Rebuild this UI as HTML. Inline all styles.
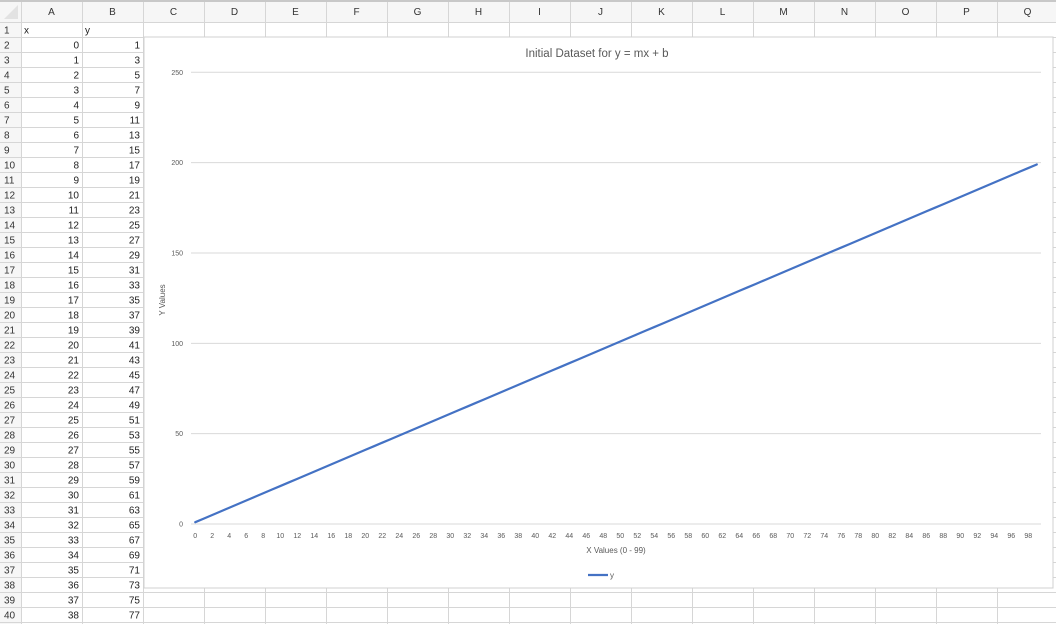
<!DOCTYPE html>
<html><head><meta charset="utf-8">
<style>
html,body{margin:0;padding:0;background:#fff;width:1056px;height:624px;overflow:hidden;font-family:"Liberation Sans",sans-serif;}
svg{display:block}
</style></head>
<body>
<svg id="root" width="1056" height="624" xmlns="http://www.w3.org/2000/svg">
  <g id="grid"></g>
  <g id="chart"></g>
</svg>
<script>
// ---- chart data ----
const xCategories = [0,1,2,3,4,5,6,7,8,9,10,11,12,13,14,15,16,17,18,19,20,21,22,23,24,25,26,27,28,29,30,31,32,33,34,35,36,37,38,39,40,41,42,43,44,45,46,47,48,49,50,51,52,53,54,55,56,57,58,59,60,61,62,63,64,65,66,67,68,69,70,71,72,73,74,75,76,77,78,79,80,81,82,83,84,85,86,87,88,89,90,91,92,93,94,95,96,97,98,99];
const yValues = [1,3,5,7,9,11,13,15,17,19,21,23,25,27,29,31,33,35,37,39,41,43,45,47,49,51,53,55,57,59,61,63,65,67,69,71,73,75,77,79,81,83,85,87,89,91,93,95,97,99,101,103,105,107,109,111,113,115,117,119,121,123,125,127,129,131,133,135,137,139,141,143,145,147,149,151,153,155,157,159,161,163,165,167,169,171,173,175,177,179,181,183,185,187,189,191,193,195,197,199];
const yTicks = [0,50,100,150,200,250];
const chartTitle = "Initial Dataset for y = mx + b";

const NS = "http://www.w3.org/2000/svg";
function mk(tag, attrs, parent, text){
  const e = document.createElementNS(NS, tag);
  for (const k in attrs) e.setAttribute(k, attrs[k]);
  if (text !== undefined) e.textContent = text;
  parent.appendChild(e);
  return e;
}
const grid = document.getElementById('grid');
const chart = document.getElementById('chart');

// ---- spreadsheet grid ----
const colLetters = ["A","B","C","D","E","F","G","H","I","J","K","L","M","N","O","P","Q"];
const rowHdrW = 21, colW = 61, hdrH = 22, rowH = 15;
mk('rect',{x:0,y:0,width:1056,height:hdrH,fill:'#f6f6f6'},grid);
mk('rect',{x:0,y:0,width:rowHdrW,height:624,fill:'#f6f6f6'},grid);
for (let c = 0; c <= colLetters.length; c++) {
  const x = rowHdrW + c*colW;
  mk('line',{x1:x+0.5,y1:0,x2:x+0.5,y2:624,stroke:'#d6d6d6','stroke-width':1},grid);
}
for (let r = 0; r <= 41; r++) {
  const y = hdrH + r*rowH;
  mk('line',{x1:0,y1:y+0.5,x2:1056,y2:y+0.5,stroke:'#d6d6d6','stroke-width':1},grid);
}
mk('line',{x1:0,y1:1,x2:1056,y2:1,stroke:'#c8c8c8','stroke-width':2},grid);
mk('polygon',{points:'4,19 18,19 18,5',fill:'#e2e2e2'},grid);
colLetters.forEach((L,i)=>{
  const t = mk('text',{x:rowHdrW + i*colW + colW/2, y:15, 'font-size':10, fill:'#333','text-anchor':'middle'},grid,L);
  
  
});
for (let r = 1; r <= 40; r++) {
  const t = mk('text',{x:4, y:hdrH + (r-1)*rowH + 11.5, 'font-size':10, fill:'#333'},grid,String(r));
  
  
}
// header cells
const hx = mk('text',{x:rowHdrW+3, y:hdrH+11.5,'font-size':10,fill:'#222'},grid,'x');


const hy = mk('text',{x:rowHdrW+colW+3, y:hdrH+11.5,'font-size':10,fill:'#222'},grid,'y');


for (let r = 2; r <= 40; r++) {
  const i = r-2;
  const y = hdrH + (r-1)*rowH + 11.5;
  const a = mk('text',{x:rowHdrW+colW-3, y:y,'font-size':10,fill:'#222','text-anchor':'end'},grid,String(xCategories[i]));
  
  
  const b = mk('text',{x:rowHdrW+2*colW-3, y:y,'font-size':10,fill:'#222','text-anchor':'end'},grid,String(yValues[i]));
  
  
}

// ---- chart ----
const box = {x:144, y:37, w:909, h:551};
const bg = mk('rect',{x:box.x, y:box.y, width:box.w, height:box.h, fill:'#fff', stroke:'#d0d0d0','stroke-width':1},chart);


const plot = {l:191, r:1041, top:72.3, bottom:524};
const yMax = 250;
function yPos(v){ return plot.bottom - (v/yMax)*(plot.bottom-plot.top); }
const band = (plot.r - plot.l)/xCategories.length;
function xPos(i){ return plot.l + band*(i+0.5); }

const title = mk('text',{x:597, y:57,'font-size':11.5, fill:'#595959','text-anchor':'middle'},chart,chartTitle);



yTicks.forEach(v=>{
  const y = yPos(v);
  const gl = mk('line',{x1:plot.l, y1:y, x2:plot.r, y2:y, stroke:'#d9d9d9','stroke-width':1},chart);
  
  
  const t = mk('text',{x:183, y:y+2.5,'font-size':7, fill:'#595959','text-anchor':'end'},chart,String(v));
  
  
});
xCategories.forEach((c,i)=>{
  if (i % 2 !== 0) return;
  const t = mk('text',{x:xPos(i), y:538,'font-size':7, fill:'#595959','text-anchor':'middle'},chart,String(c));
  
  
});
const yt = mk('text',{x:0,y:0,'font-size':8, fill:'#595959','text-anchor':'middle', transform:'translate(165,300) rotate(-90)'},chart,'Y Values');


const xt = mk('text',{x:616, y:553,'font-size':8, fill:'#595959','text-anchor':'middle'},chart,'X Values (0 - 99)');



const pts = yValues.map((v,i)=> xPos(i).toFixed(2) + ',' + yPos(v).toFixed(2)).join(' ');
const line = mk('polyline',{points:pts, fill:'none', stroke:'#4472c4','stroke-width':2.2,'stroke-linejoin':'round','stroke-linecap':'round'},chart);



const lg = mk('line',{x1:588, y1:575, x2:608, y2:575, stroke:'#4472c4','stroke-width':2.2},chart);


const lt = mk('text',{x:610, y:578,'font-size':8, fill:'#595959'},chart,'y');


</script>
</body></html>
